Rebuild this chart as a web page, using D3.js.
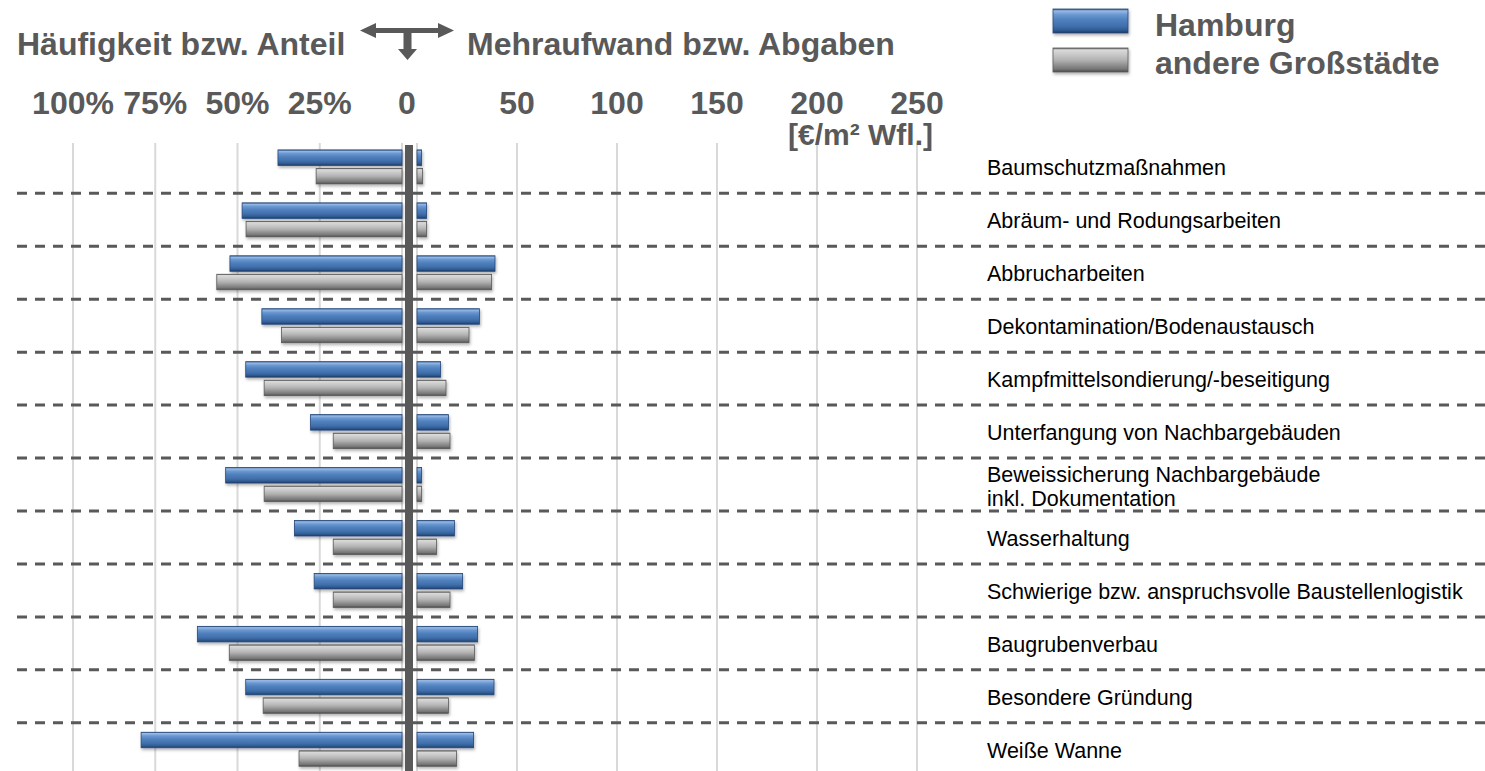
<!DOCTYPE html>
<html><head><meta charset="utf-8">
<script src="https://cdn.jsdelivr.net/npm/d3@7"></script>
<style>
body{margin:0;background:#fff;}
svg{display:block;font-family:"Liberation Sans",Arial,Helvetica,sans-serif;}
</style>
</head><body>
<svg id="c" width="1485" height="771"></svg>
<script>
// ---------- data ----------
const categories = [
  "Baumschutzmaßnahmen",
  "Abräum- und Rodungsarbeiten",
  "Abbrucharbeiten",
  "Dekontamination/Bodenaustausch",
  "Kampfmittelsondierung/-beseitigung",
  "Unterfangung von Nachbargebäuden",
  "Beweissicherung Nachbargebäude\ninkl. Dokumentation",
  "Wasserhaltung",
  "Schwierige bzw. anspruchsvolle Baustellenlogistik",
  "Baugrubenverbau",
  "Besondere Gründung",
  "Weiße Wanne"
];
const seriesNames = ["Hamburg", "andere Großstädte"];
// Häufigkeit bzw. Anteil [%]
const hamburgShare = [37.7, 48.6, 52.3, 42.6, 47.5, 27.8, 53.6, 32.7, 26.7, 62.2, 47.5, 79.3];
const otherShare   = [26.1, 47.4, 56.3, 36.6, 41.9, 20.9, 41.9, 20.9, 20.9, 52.5, 42.2, 31.3];
// Mehraufwand bzw. Abgaben [€/m² Wfl.]
const hamburgCost  = [2.3, 4.8, 39.0, 31.2, 11.8, 15.7, 2.3, 18.7, 22.8, 30.3, 38.5, 28.3];
const otherCost    = [2.8, 4.8, 37.3, 26.0, 14.5, 16.5, 2.3, 9.8, 16.5, 28.7, 15.7, 19.8];
const leftTicks  = [100, 75, 50, 25];
const leftTickLabels = ["100%", "75%", "50%", "25%"];
const rightTicks = [50, 100, 150, 200, 250];
const zeroLabel = "0";
const unitLabel = "[€/m² Wfl.]";
const leftTitle = "Häufigkeit bzw. Anteil";
const rightTitle = "Mehraufwand bzw. Abgaben";

// ---------- setup ----------
const svg = d3.select("#c");
const defs = svg.append("defs");
const grey = "#595959";

function grad(id, stops) {
  const g = defs.append("linearGradient").attr("id", id)
    .attr("x1", 0).attr("y1", 0).attr("x2", 0).attr("y2", 1);
  stops.forEach(([o, c]) => g.append("stop").attr("offset", o).attr("stop-color", c));
}
grad("gBlue", [[0, "#2c5689"], [0.08, "#98bbe6"], [0.24, "#6a97d1"], [0.45, "#4f81bd"], [0.72, "#416fac"], [0.88, "#2f5b92"], [1, "#1d3b63"]]);
grad("gGray", [[0, "#5e5e5e"], [0.08, "#dadada"], [0.28, "#c8c8c8"], [0.5, "#b2b2b2"], [0.72, "#8f8f8f"], [0.88, "#767676"], [1, "#4a4a4a"]]);
const f = defs.append("filter").attr("id", "sh").attr("x", "-5%").attr("y", "-30%").attr("width", "110%").attr("height", "170%");
f.append("feDropShadow").attr("dx", 1).attr("dy", 2).attr("stdDeviation", 1.5)
  .attr("flood-color", "#000").attr("flood-opacity", 0.3);

const xL = d3.scaleLinear().domain([0, 100]).range([402, 73]);
const xR = d3.scaleLinear().domain([0, 250]).range([417, 917]);
const y = d3.scaleBand().domain(categories).range([140.4, 775.7]).padding(0);

const plotTop = 143, plotBottom = 771;

// gridlines
const grid = svg.append("g");
grid.selectAll(".gl").data([0].concat(leftTicks)).join("line")
  .attr("x1", d => xL(d)).attr("x2", d => xL(d))
  .attr("y1", plotTop).attr("y2", plotBottom)
  .attr("stroke", "#d9d9d9").attr("stroke-width", 2);
grid.selectAll(".gr").data([0].concat(rightTicks)).join("line")
  .attr("x1", d => xR(d)).attr("x2", d => xR(d))
  .attr("y1", plotTop).attr("y2", plotBottom)
  .attr("stroke", "#d9d9d9").attr("stroke-width", 2);

// dashed row separators
svg.append("g").selectAll("line").data(categories.slice(1)).join("line")
  .attr("x1", 17).attr("x2", 1485)
  .attr("y1", d => y(d)).attr("y2", d => y(d))
  .attr("stroke", grey).attr("stroke-width", 3).attr("stroke-dasharray", "10,8");

// bars
const barH = 15.5;
const offs = [9.5, 28];
const fills = ["url(#gBlue)", "url(#gGray)"];
const strokes = ["#24487a", "#5a5a5a"];
const shares = [hamburgShare, otherShare];
const costs = [hamburgCost, otherCost];
const bars = svg.append("g").attr("filter", "url(#sh)");
[0, 1].forEach(s => {
  bars.selectAll(".l" + s).data(categories).join("rect")
    .attr("x", (d, i) => xL(shares[s][i]))
    .attr("width", (d, i) => xL(0) - xL(shares[s][i]))
    .attr("y", d => y(d) + offs[s]).attr("height", barH)
    .attr("fill", fills[s]).attr("stroke", strokes[s]).attr("stroke-width", 0.8);
  bars.selectAll(".r" + s).data(categories).join("rect")
    .attr("x", xR(0))
    .attr("width", (d, i) => xR(costs[s][i]) - xR(0))
    .attr("y", d => y(d) + offs[s]).attr("height", barH)
    .attr("fill", fills[s]).attr("stroke", strokes[s]).attr("stroke-width", 0.8);
});

// center divider
svg.append("rect").attr("x", 405).attr("width", 8).attr("y", 145).attr("height", plotBottom - 145).attr("fill", grey);

// category labels
const lab = svg.append("g").attr("font-size", 21.5).attr("fill", "#000");
categories.forEach(c => {
  const lines = c.split("\n");
  const cy = y(c) + y.bandwidth() / 2;
  const t = lab.append("text").attr("x", 987);
  lines.forEach((ln, k) => {
    const base = lines.length === 1 ? cy + 8.5 : cy - 3 + k * 24;
    t.append("tspan").attr("x", 987).attr("y", base).text(ln);
  });
});

// tick labels
const tk = svg.append("g").attr("font-size", 32).attr("font-weight", "bold").attr("fill", grey).attr("text-anchor", "middle");
tk.selectAll(".tl").data(leftTicks).join("text")
  .attr("x", d => xL(d)).attr("y", 114).text((d, i) => leftTickLabels[i]);
tk.selectAll(".tr").data(rightTicks).join("text")
  .attr("x", d => xR(d)).attr("y", 114).text(d => d);
tk.append("text").attr("x", 407).attr("y", 114).text(zeroLabel);
svg.append("text").attr("x", 788).attr("y", 145).attr("font-size", 30).attr("font-weight", "bold")
  .attr("fill", grey).text(unitLabel);

// titles
const tt = svg.append("g").attr("font-size", 32).attr("font-weight", "bold").attr("fill", grey);
tt.append("text").attr("x", 17).attr("y", 55).text(leftTitle);
tt.append("text").attr("x", 467).attr("y", 55).text(rightTitle);

// T arrow symbol
svg.append("path").attr("fill", grey).attr("d",
  "M360,30.5 L376,23 L376,28 L438,28 L438,23 L454,30.5 L438,38 L438,33 L411.5,33 L411.5,49 L417,49 L407.5,60 L398,49 L403.5,49 L403.5,33 L376,33 L376,38 Z");

// legend
const lg = svg.append("g");
[0, 1].forEach(s => {
  lg.append("rect").attr("x", 1053).attr("y", 9 + s * 39).attr("width", 75).attr("height", 24)
    .attr("fill", fills[s]).attr("stroke", strokes[s]).attr("stroke-width", 0.8).attr("filter", "url(#sh)");
  lg.append("text").attr("x", 1155).attr("y", 36 + s * 37.5).attr("font-size", 32).attr("font-weight", "bold")
    .attr("fill", grey).text(seriesNames[s]);
});
</script>
</body></html>
